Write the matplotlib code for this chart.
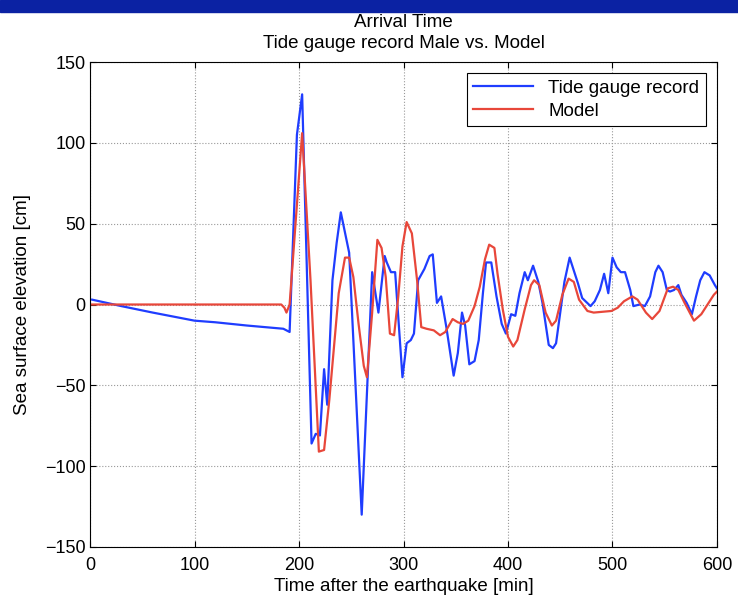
import matplotlib
matplotlib.use("Agg")
import matplotlib.pyplot as plt
from matplotlib.patches import Rectangle

plt.rcParams['font.family'] = ['Liberation Sans', 'DejaVu Sans']

# tide gauge record (Male)
gauge_t = [2, 30, 60, 100, 120, 150, 185, 191, 198, 203, 212, 216, 220, 224, 227,
           232, 236, 240, 248, 260, 270, 276, 282, 284, 288, 292, 299, 303, 307, 310,
           314, 320, 325, 328, 332, 336, 341, 348, 352, 356, 359, 363, 368, 372, 376,
           379, 384, 389, 394, 398, 403, 407, 411, 416, 419, 424, 429, 433, 439, 443,
           446, 454, 459, 464, 467, 471, 479, 483, 488, 492, 496, 500, 504, 508, 512,
           517, 520, 526, 531, 536, 541, 544, 548, 552, 555, 559, 563, 566, 571, 576,
           580, 584, 588, 593, 598, 600]
gauge_v = [3, -1, -5, -10, -11, -13, -15, -17, 105, 130, -86, -80, -81, -40, -62,
           15, 38, 57, 32, -130, 20, -5, 30, 26, 20, 20, -45, -24, -22, -18,
           15, 22, 30, 31, 1, 5, -14, -44, -30, -5, -13, -37, -35, -22, 7,
           26, 26, 5, -12, -18, -6, -7, 7, 20, 15, 24, 14, 1, -25, -27,
           -24, 14, 29, 19, 13, 4, -1, 2, 9, 19, 7, 29, 23, 20, 20,
           9, -1, 0, -1, 5, 20, 24, 20, 9, 8, 9, 12, 6, 1, -6,
           5, 15, 20, 18, 12, 10]

# model
model_t = [0, 183, 186, 188, 191, 203, 211, 219, 224, 229, 238, 244, 248, 252, 257,
           262, 265, 270, 275, 279, 283, 287, 291, 295, 299, 303, 308, 313, 317, 322,
           329, 335, 340, 347, 352, 357, 362, 368, 373, 378, 382, 387, 390, 395, 400,
           405, 409, 416, 422, 425, 430, 436, 442, 446, 452, 458, 463, 468, 476, 482,
           499, 505, 511, 519, 524, 532, 538, 545, 553, 558, 563, 569, 578, 585, 591,
           597, 600]
model_v = [0, 0, -2, -5, 0, 106, 15, -91, -90, -59, 7, 29, 29, 17, -12,
           -38, -45, -5, 40, 35, 17, -18, -19, 5, 36, 51, 44, 15, -14, -15,
           -16, -19, -17, -9, -11, -12, -10, -1, 11, 28, 37, 35, 19, -3, -20,
           -26, -22, -3, 12, 15, 12, -5, -13, -10, 6, 16, 14, 3, -4, -5,
           -4, -2, 2, 5, 3, -5, -9, -4, 10, 11, 9, 1, -10, -6, 0,
           6, 8]

fig = plt.figure(figsize=(7.38, 5.98), dpi=100)
# dark blue band at the top of the slide
fig.patches.append(Rectangle((0, 0.98), 1, 0.02, transform=fig.transFigure,
                             color='#0b22a3', zorder=0))

ax = fig.add_axes([0.122, 0.0853, 0.8495, 0.811])
ax.plot(gauge_t, gauge_v, color='#1f3dff', lw=1.6, label='Tide gauge record')
ax.plot(model_t, model_v, color='#e8473a', lw=1.6, label='Model')

ax.set_xlim(0, 600)
ax.set_ylim(-150, 150)
ax.set_xticks(range(0, 601, 100))
ax.set_yticks(range(-150, 151, 50))
ax.tick_params(direction='in', top=True, right=True, labelsize=13, length=4)
ax.tick_params(axis='x', pad=7)
ax.tick_params(axis='y', pad=3)
ax.grid(True, linestyle=':', color='#999999', lw=0.8)

ax.set_title('Arrival Time\nTide gauge record Male vs. Model', fontsize=13.5,
             pad=10, linespacing=1.3)
ax.set_xlabel('Time after the earthquake [min]', fontsize=13.5, labelpad=3)
ax.set_ylabel('Sea surface elevation [cm]', fontsize=13.5, labelpad=10)

leg = ax.legend(loc='upper right', fontsize=13.5, fancybox=False, framealpha=1,
                edgecolor='black', handlelength=3.2, borderaxespad=0.6,
                borderpad=0.35, labelspacing=0.3)
leg.get_frame().set_linewidth(0.8)

plt.savefig('out.png')
